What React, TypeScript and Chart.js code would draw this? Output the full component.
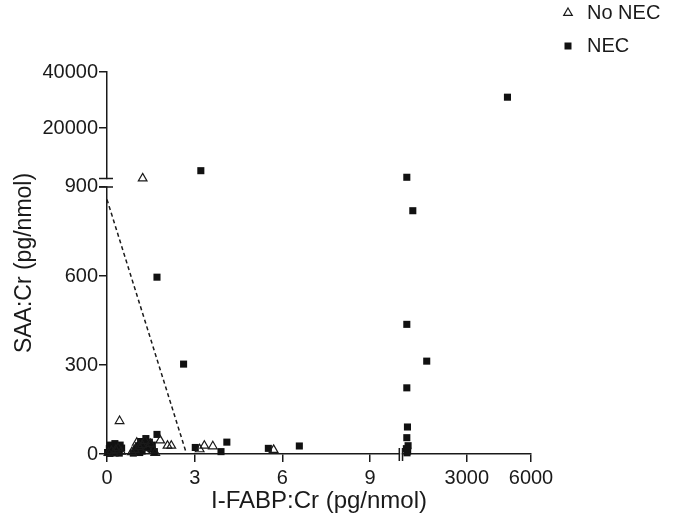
import React, { useEffect, useRef } from 'react';
import { Chart, LinearScale, registerables } from 'chart.js';

// ---- data ----
// No NEC: open triangles
const noNecX = [0.05, 0.15, 0.22, 0.3, 0.38, 0.48, 0.85, 0.95, 1.02, 1.1, 1.2, 1.3, 1.38, 1.48, 1.58, 1.65, 0.43, 1.82, 2.07, 2.2, 3.17, 3.33, 3.62, 5.7, 1.22];
const noNecY = [4, 10, 2, 14, 20, 8, 6, 14, 38, 24, 30, 44, 20, 34, 12, 4, 111, 46, 28, 28, 16, 28, 26, 14, 2000];

// NEC: filled squares
const necX = [
  0.02, 0.08, 0.12, 0.18, 0.22, 0.27, 0.3, 0.35, 0.4, 0.45, 0.5, 0.1, 0.25, 0.42,
  0.9, 1.0, 1.08, 1.15, 1.2, 1.28, 1.33, 1.4, 1.45, 1.5, 1.55, 1.62, 1.12,
  1.71, 1.71, 2.62, 3.02, 3.9, 4.1, 5.52, 6.58, 3.21,
  200, 480, 200, 1130, 200, 230, 200, 260, 180, 240, 210, 4900,
];
const necY = [
  5, 18, 30, 8, 22, 35, 12, 26, 15, 30, 20, 2, 5, 3,
  3, 15, 28, 42, 10, 35, 52, 25, 40, 18, 30, 8, 5,
  66, 596, 303, 22, 8, 40, 19, 27, 4750,
  2400, 820, 437, 313, 223, 91, 55, 28, 18, 10, 4, 31000,
];

// dashed cut-off line
const cutLineX = [0, 2.71];
const cutLineY = [858, 4];

// tick values
const xTickValues = [0, 3, 6, 9, 3000, 6000];
const yTickValues = [0, 300, 600, 900, 20000, 40000];

// broken-axis segments (value range -> fraction of axis length)
const xSegments = [
  { min: 0, max: 10, from: 0, to: 0.6894 },
  { min: 0, max: 6000, from: 0.697, to: 1 },
];
const ySegments = [
  { min: 0, max: 900, from: 0, to: 0.699 },
  { min: 2000, max: 40000, from: 0.7215, to: 1 },
];

const SEGMENTS: Record<string, { min: number; max: number; from: number; to: number }[]> = {
  x: xSegments,
  y: ySegments,
};
const TICKS: Record<string, number[]> = { x: xTickValues, y: yTickValues };

class BrokenScale extends LinearScale {
  static id = 'broken';
  static defaults = {};

  segDecimal(value: number): number {
    const segs = SEGMENTS[(this as any).id];
    let s = segs[segs.length - 1];
    for (const seg of segs) {
      if (value <= seg.max) {
        s = seg;
        break;
      }
    }
    return s.from + ((value - s.min) / (s.max - s.min)) * (s.to - s.from);
  }

  getPixelForValue(value: any) {
    if (value === null || value === undefined || isNaN(value)) return NaN;
    return (this as any).getPixelForDecimal(this.segDecimal(+value));
  }

  getValueForPixel(pixel: number) {
    const d = (this as any).getDecimalForPixel(pixel);
    const segs = SEGMENTS[(this as any).id];
    for (const s of segs) {
      if (d <= s.to) return s.min + ((d - s.from) / (s.to - s.from)) * (s.max - s.min);
    }
    const s = segs[segs.length - 1];
    return s.min + ((d - s.from) / (s.to - s.from)) * (s.max - s.min);
  }

  buildTicks() {
    return TICKS[(this as any).id].map((v) => ({ value: v }));
  }
}

Chart.register(...registerables, BrokenScale);

const FONT = "'Liberation Sans', Arial, Helvetica, sans-serif";
const INK = '#1a1a1a';

const axisBreaks = {
  id: 'axisBreaks',
  beforeDatasetsDraw(chart: any) {
    const ctx = chart.ctx;
    const xs = chart.scales.x;
    const ys = chart.scales.y;
    const area = chart.chartArea;
    ctx.save();
    const yLow = ys.getPixelForDecimal(ySegments[0].to);
    const yHigh = ys.getPixelForDecimal(ySegments[1].from);
    const xLow = xs.getPixelForDecimal(xSegments[0].to);
    const xHigh = xs.getPixelForDecimal(xSegments[1].from);
    ctx.fillStyle = '#ffffff';
    ctx.fillRect(area.left - 2, yHigh + 0.8, 4, yLow - yHigh - 1.6);
    ctx.fillRect(xLow + 0.8, area.bottom - 2, xHigh - xLow - 1.6, 4);
    ctx.strokeStyle = INK;
    ctx.lineWidth = 1.5;
    ctx.beginPath();
    [yLow, yHigh].forEach((p) => {
      ctx.moveTo(area.left - 8, p);
      ctx.lineTo(area.left + 6, p);
    });
    [xLow, xHigh].forEach((p) => {
      ctx.moveTo(p, area.bottom - 6);
      ctx.lineTo(p, area.bottom + 7);
    });
    ctx.stroke();
    ctx.restore();
  },
};

const legendPlacer = {
  id: 'legendPlacer',
  afterLayout(chart: any) {
    const lg = chart.legend;
    if (!lg) return;
    lg.left = 546;
    lg.right = 675;
    lg.top = -10;
    lg.bottom = 110;
    lg.width = lg.right - lg.left;
    lg.height = lg.bottom - lg.top;
  },
};

export default function App() {
  const ref = useRef<HTMLCanvasElement>(null);

  useEffect(() => {
    if (!ref.current) return;
    const chart = new Chart(ref.current, {
      type: 'scatter',
      data: {
        datasets: [
          {
            label: 'No NEC',
            data: noNecX.map((x, i) => ({ x, y: noNecY[i] })),
            pointStyle: 'triangle',
            pointRadius: 5,
            borderColor: INK,
            borderWidth: 1.2,
            backgroundColor: 'rgba(0,0,0,0)',
            clip: false,
          },
          {
            label: 'NEC',
            data: necX.map((x, i) => ({ x, y: necY[i] })),
            pointStyle: 'rect',
            pointRadius: 5,
            borderWidth: 0,
            borderColor: INK,
            backgroundColor: '#111111',
            clip: false,
          },
          {
            type: 'line',
            label: 'cut-off',
            data: cutLineX.map((x, i) => ({ x, y: cutLineY[i] })),
            borderColor: INK,
            borderWidth: 1.5,
            borderDash: [4, 3],
            pointRadius: 0,
            fill: false,
            clip: false,
          } as any,
        ],
      },
      options: {
        responsive: false,
        animation: false,
        devicePixelRatio: 1,
        events: [],
        layout: { padding: { left: 0, top: 72, right: 144, bottom: 0 } },
        plugins: {
          tooltip: { enabled: false },
          legend: {
            position: 'chartArea',
            align: 'start',
            labels: {
              usePointStyle: true,
              boxWidth: 18,
              boxHeight: 7,
              padding: 13,
              color: INK,
              font: { family: FONT, size: 20 },
              filter: (item: any) => item.datasetIndex !== 2,
            },
          },
        },
        scales: {
          x: {
            type: 'broken',
            position: 'bottom',
            min: 0,
            max: 6000,
            afterFit: (s: any) => {
              s.height = 68;
            },
            ticks: {
              autoSkip: false,
              maxRotation: 0,
              padding: 4,
              color: INK,
              font: { family: FONT, size: 20 },
              callback: (v: any) => String(v),
            },
            grid: { drawOnChartArea: false, drawTicks: true, tickLength: 8, color: INK, lineWidth: 1.5 },
            border: { display: true, color: INK, width: 1.5 },
            title: {
              display: true,
              text: 'I-FABP:Cr (pg/nmol)',
              color: INK,
              font: { family: FONT, size: 24 },
              padding: { top: 0, bottom: 6 },
            },
          } as any,
          y: {
            type: 'broken',
            position: 'left',
            min: 0,
            max: 40000,
            afterFit: (s: any) => {
              s.width = 107;
            },
            ticks: {
              autoSkip: false,
              padding: 1,
              color: INK,
              font: { family: FONT, size: 20 },
              callback: (v: any) => String(v),
            },
            grid: { drawOnChartArea: false, drawTicks: true, tickLength: 8, color: INK, lineWidth: 1.5 },
            border: { display: true, color: INK, width: 1.5 },
            title: {
              display: true,
              text: 'SAA:Cr (pg/nmol)',
              color: INK,
              font: { family: FONT, size: 23 },
              padding: { top: 11, bottom: 0 },
            },
          } as any,
        },
      },
      plugins: [axisBreaks, legendPlacer],
    } as any);
    return () => chart.destroy();
  }, []);

  return (
    <div style={{ position: 'absolute', left: 0, top: 0, width: 675, height: 522, background: '#ffffff' }}>
      <canvas ref={ref} width={675} height={522} style={{ display: 'block', width: 675, height: 522 }} />
    </div>
  );
}
